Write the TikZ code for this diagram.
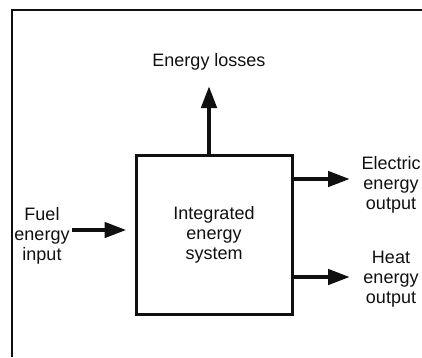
\documentclass[tikz,border=0pt]{standalone}
\usepackage{fontspec}
\setmainfont{Liberation Sans}
\usetikzlibrary{arrows.meta,positioning}
\definecolor{Ink}{HTML}{101010}

\begin{document}
\begin{tikzpicture}[x=1pt,y=-1pt,font=\fontsize{18}{20}\selectfont,
    flow/.style={draw=Ink,line width=4.5pt,-{Triangle[length=22pt,width=15pt]}},
    lbl/.style={align=center,inner sep=0pt,text=Ink}]
        \useasboundingbox (0,0) rectangle (422,357);
        \draw[Ink,line width=1.6pt] (12,357)--(12,10)--(422,10);
        \node[draw=Ink,line width=3pt,minimum width=156pt,minimum height=159pt,lbl] (sys) at (214,234.5) {Integrated\\energy\\system};
        \node[lbl] (losses) at (209,62) {Energy losses};
        \node[lbl] (fuel) at (42,236) {Fuel\\energy\\input};
        \node[lbl] (elec) at (391,185) {Electric\\energy\\output};
        \node[lbl] (heat) at (391,279) {Heat\\energy\\output};
        \coordinate (lo) at (209,86);
        \coordinate (fi) at (72,230);
        \coordinate (eo) at (350,179);
        \coordinate (ho) at (350,277);
        \draw[flow] (lo |- sys.north)--(lo);
        \draw[flow,shorten >=8pt] (fi)--(fi -| sys.west);
        \draw[flow] (sys.east |- eo)--(eo);
        \draw[flow] (sys.east |- ho)--(ho);
      \end{tikzpicture}
\end{document}
